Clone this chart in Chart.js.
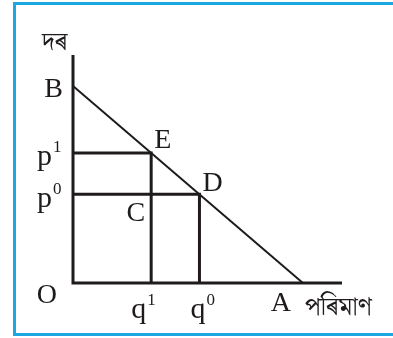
<!DOCTYPE html>
<html>
<head>
<meta charset="utf-8">
<script src="https://cdn.jsdelivr.net/npm/chart.js@4.4.1/dist/chart.umd.min.js"></script>
<style>
  html, body { margin: 0; padding: 0; background: #fff; }
  #wrap { position: relative; width: 393px; height: 338px; overflow: hidden; }
  #frame {
    position: absolute; left: 13px; top: 2px; width: 420px; height: 334px;
    box-sizing: border-box; border: 3px solid #1ba8e2; border-right: none;
  }
  #chartCanvas { position: absolute; left: 0; top: 0; }
</style>
</head>
<body>
<div id="wrap">
  <div id="frame"></div>
  <canvas id="chartCanvas" width="393" height="338"></canvas>
</div>
<script>
// ── Data ──
var axisMaxQ = 11.7;
var axisMaxP = 11.57;

var demandQ = [0, 10];        // B to A
var demandP = [10, 0];

var oldQ = 5.5, oldP = 4.5;   // point D  (q0, p0)
var newQ = 3.4, newP = 6.6;   // point E  (q1, p1)

var axisTitles = ['দৰ', 'পৰিমাণ'];
var pointNames = ['B', 'E', 'D', 'C', 'A', 'O'];
var priceTicks = [['p', '1'], ['p', '0']];
var qtyTicks = [['q', '1'], ['q', '0']];

var INK = '#1f1b1c';

function pts(xs, ys) {
  return xs.map(function(x, i) { return { x: x, y: ys[i] }; });
}

function lineSet(data, width) {
  return {
    data: data,
    showLine: true,
    borderColor: INK,
    borderWidth: width,
    pointRadius: 0,
    borderCapStyle: 'butt',
    borderJoinStyle: 'miter',
    clip: false
  };
}

// ── Labels plugin ──
var labelPlugin = {
  id: 'labels',
  afterDatasetsDraw: function(chart) {
    var ctx = chart.ctx;
    var sx = chart.scales.x, sy = chart.scales.y;
    var X = function(v) { return sx.getPixelForValue(v); };
    var Y = function(v) { return sy.getPixelForValue(v); };
    var serif = '"Liberation Serif", "Times New Roman", serif';
    var beng = '"Noto Serif Bengali", "Noto Sans Bengali", "Lohit Bengali", sans-serif';

    ctx.save();
    ctx.fillStyle = INK;
    ctx.textBaseline = 'alphabetic';

    function txt(s, x, y, align, size, fam) {
      ctx.font = size + 'px ' + (fam || serif);
      ctx.textAlign = align || 'left';
      ctx.fillText(s, x, y);
    }
    function sup(pair, x, y) {
      // base letter left aligned at x, superscript after it
      ctx.font = '30px ' + serif;
      ctx.textAlign = 'left';
      ctx.fillText(pair[0], x, y);
      var w = ctx.measureText(pair[0]).width;
      ctx.font = '17px ' + serif;
      ctx.fillText(pair[1], x + w + 1, y - 13);
    }

    // axis titles
    txt(axisTitles[0], X(0) - 31, Y(axisMaxP) - 5, 'left', 25, beng);
    txt(axisTitles[1], X(10) + 2, Y(0) + 32, 'left', 25, beng);

    // point names
    txt(pointNames[0], X(0) - 10, Y(demandP[0]) + 11, 'right', 28);
    txt(pointNames[1], X(newQ) + 3, Y(newP) - 5, 'left', 28);
    txt(pointNames[2], X(oldQ) + 3, Y(oldP) - 3, 'left', 28);
    txt(pointNames[3], X(newQ) - 6, Y(oldP) + 27, 'right', 28);
    txt(pointNames[4], X(demandQ[1]) - 12, Y(0) + 28, 'right', 28);
    txt(pointNames[5], X(0) - 16, Y(0) + 20, 'right', 28);

    // price and quantity labels
    sup(priceTicks[0], X(0) - 36, Y(newP) + 12);
    sup(priceTicks[1], X(0) - 36, Y(oldP) + 13);
    sup(qtyTicks[0], X(newQ) - 20, Y(0) + 35);
    sup(qtyTicks[1], X(oldQ) - 9, Y(0) + 35);

    ctx.restore();
  }
};

// ── Chart ──
var ctx = document.getElementById('chartCanvas').getContext('2d');
var chartInstance = new Chart(ctx, {
  type: 'scatter',
  data: {
    datasets: [
      lineSet([{ x: 0, y: axisMaxP }, { x: 0, y: 0 }, { x: axisMaxQ, y: 0 }], 3),
      lineSet(pts(demandQ, demandP), 2),
      lineSet([{ x: 0, y: newP }, { x: newQ, y: newP }, { x: newQ, y: 0 }], 3),
      lineSet([{ x: 0, y: oldP }, { x: oldQ, y: oldP }, { x: oldQ, y: 0 }], 3)
    ]
  },
  options: {
    responsive: false,
    animation: false,
    layout: { padding: { left: 73, right: 51, top: 55, bottom: 55 } },
    plugins: {
      legend: { display: false },
      tooltip: { enabled: false }
    },
    scales: {
      x: { type: 'linear', min: 0, max: axisMaxQ, display: false },
      y: { type: 'linear', min: 0, max: axisMaxP, display: false }
    }
  },
  plugins: [labelPlugin]
});
</script>
</body>
</html>
